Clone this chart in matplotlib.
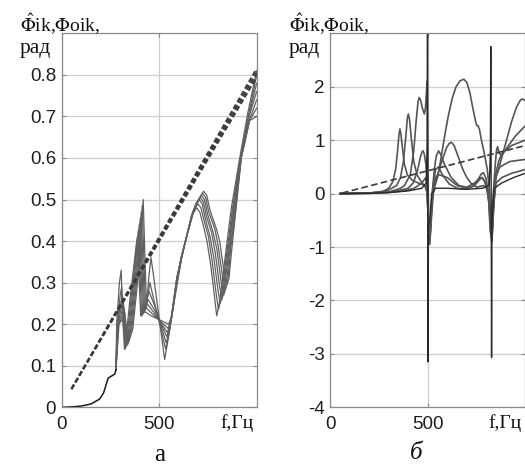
import matplotlib
matplotlib.use("Agg")
import matplotlib.pyplot as plt

plt.rcParams['mathtext.fontset'] = 'stix'
plt.rcParams['axes.unicode_minus'] = False

# ---------- panel а : phase of the transfer functions, 0..1000 Hz ----------
# common low-frequency part (all curves coincide there)
a_base = [(0, 0.0), (50, 0.001), (100, 0.003), (150, 0.008), (195, 0.02),
          (215, 0.035), (238, 0.07), (255, 0.075), (272, 0.08), (278, 0.09)]

a1 = [(278, .09), (282, .20), (296, .30), (305, .33), (312, .22), (322, .14), (335, .19),
      (350, .26), (370, .34), (382, .39), (388, .41), (395, .33), (405, .22), (427, .23),
      (460, .22), (548, .20), (565, .22), (590, .29), (615, .36), (640, .41), (665, .46),
      (692, .48), (708, .47), (725, .44), (745, .40), (765, .34), (785, .26), (795, .22),
      (808, .25), (830, .33), (870, .48), (913, .60), (955, .71), (1000, .81)]
a2 = [(278, .09), (284, .20), (300, .27), (308, .29), (315, .21), (326, .14), (340, .19),
      (355, .26), (374, .34), (387, .40), (393, .425), (400, .34), (410, .22), (432, .24),
      (465, .225), (545, .19), (562, .21), (590, .30), (615, .36), (640, .41), (668, .465),
      (698, .49), (714, .48), (730, .45), (753, .41), (772, .35), (793, .27), (804, .235),
      (816, .26), (838, .34), (876, .48), (916, .60), (957, .70), (1000, .80)]
a3 = [(278, .09), (286, .20), (303, .25), (311, .27), (318, .21), (330, .145), (345, .19),
      (360, .26), (378, .34), (392, .41), (398, .44), (405, .35), (415, .225), (437, .25),
      (470, .23), (542, .18), (560, .205), (590, .30), (615, .36), (640, .41), (672, .47),
      (704, .50), (720, .49), (736, .455), (761, .41), (780, .36), (802, .28), (813, .25),
      (825, .27), (846, .35), (881, .48), (918, .60), (959, .70), (1000, .78)]
a4 = [(278, .09), (288, .20), (306, .24), (314, .26), (321, .21), (334, .15), (350, .19),
      (365, .26), (383, .34), (397, .42), (403, .455), (410, .36), (420, .23), (442, .26),
      (475, .235), (539, .17), (557, .20), (590, .30), (615, .36), (640, .41), (676, .475),
      (710, .505), (726, .495), (742, .46), (769, .42), (788, .37), (810, .29), (822, .26),
      (834, .28), (853, .36), (884, .48), (919, .60), (961, .70), (1000, .76)]
a5 = [(278, .09), (290, .20), (309, .23), (317, .25), (324, .20), (338, .15), (355, .19),
      (370, .26), (388, .34), (402, .43), (408, .47), (415, .37), (425, .23), (447, .28),
      (480, .24), (536, .155), (555, .19), (590, .31), (615, .365), (640, .41), (680, .48),
      (716, .51), (732, .50), (748, .465), (777, .42), (796, .38), (818, .30), (831, .27),
      (843, .29), (860, .37), (886, .47), (920, .60), (962, .69), (1000, .74)]
a6 = [(278, .09), (292, .20), (312, .22), (320, .24), (327, .20), (342, .155), (360, .19),
      (375, .26), (393, .34), (407, .44), (413, .485), (420, .38), (430, .235), (452, .30),
      (533, .14), (552, .18), (590, .31), (615, .365), (640, .41), (684, .485),
      (722, .515), (738, .505), (754, .47), (785, .43), (802, .39), (826, .31), (840, .285),
      (851, .30), (866, .38), (888, .46), (921, .60), (963, .69), (1000, .72)]
a7 = [(278, .09), (294, .20), (315, .215), (323, .23), (330, .20), (346, .16), (365, .19),
      (380, .26), (398, .34), (412, .45), (418, .50), (425, .39), (435, .24), (446, .31),
      (458, .36), (470, .32), (528, .115), (548, .17), (590, .31), (615, .365), (640, .41),
      (688, .49), (728, .52), (744, .51), (760, .475), (793, .43), (810, .40), (834, .32),
      (849, .30), (858, .31), (870, .37), (890, .46), (921, .60), (964, .69), (1000, .70)]

# linear estimate (dashed): runs start together and fan out slightly towards 1000 Hz
a_lin_f = [50, 1000]
a_lin = [[0.044, 0.795], [0.044, 0.805], [0.044, 0.815]]

# ---------- panel б ----------
b1 = [(50, 0), (200, 0.005), (300, 0.02), (380, 0.05), (430, 0.1), (470, 0.2), (490, 0.3),
      (497, 0.1), (503, -0.6), (510, -0.9), (516, -0.4), (525, 0.1), (540, 0.45), (555, 0.5),
      (575, 0.35), (610, 0.18), (650, 0.1), (690, 0.08), (730, 0.13), (760, 0.28), (775, 0.37),
      (785, 0.39), (797, 0.3), (810, 0.05), (822, -0.6), (828, -0.9), (835, -0.3), (850, 0.2),
      (880, 0.3), (930, 0.38), (1000, 0.45)]
b2 = [(50, 0), (200, 0.01), (270, 0.04), (300, 0.1), (320, 0.22), (335, 0.45), (345, 0.8),
      (352, 1.1), (357, 1.21), (362, 1.12), (370, 0.85), (380, 0.55), (395, 0.35), (420, 0.25),
      (450, 0.2), (485, 0.15), (497, 0.0), (505, -0.7), (512, -0.8), (520, -0.2), (535, 0.2),
      (550, 0.35), (570, 0.58), (595, 0.85), (610, 0.94), (621, 0.96), (635, 0.9), (655, 0.7),
      (680, 0.45), (700, 0.3), (720, 0.2), (750, 0.12), (785, 0.15), (805, 0.1), (818, -0.3),
      (826, -0.8), (832, -0.2), (845, 0.5), (852, 0.8), (858, 0.88), (866, 0.75), (880, 0.72),
      (910, 0.88), (950, 1.08), (1000, 1.27)]
b3 = [(50, 0), (200, 0.01), (290, 0.05), (340, 0.15), (360, 0.3), (375, 0.6), (388, 1.1),
      (395, 1.4), (400, 1.49), (406, 1.4), (415, 1.05), (428, 0.6), (445, 0.35), (470, 0.2),
      (495, 0.1), (503, -0.5), (510, -0.95), (518, -0.5), (528, 0.0), (537, 0.15), (550, 0.3),
      (565, 0.6), (585, 1.05), (605, 1.45), (625, 1.78), (645, 2.0), (665, 2.11), (685, 2.14),
      (700, 2.08), (715, 1.9), (730, 1.62), (745, 1.35), (752, 1.27), (758, 1.27), (765, 1.2),
      (775, 1.0), (790, 0.75), (805, 0.45), (815, 0.1), (822, -0.5), (829, -0.9), (838, -0.2),
      (850, 0.3), (870, 0.55), (900, 0.95), (930, 1.35), (955, 1.62), (975, 1.75), (986, 1.77),
      (1000, 1.74)]
b4 = [(50, 0), (200, 0.01), (300, 0.03), (360, 0.1), (380, 0.15), (410, 0.35), (428, 0.8),
      (440, 1.35), (450, 1.72), (456, 1.80), (463, 1.75), (472, 1.6), (482, 1.49), (488, 1.6),
      (494, 1.95), (497, 2.1), (500, 0.5), (505, -0.6), (511, -0.85), (518, -0.3), (530, 0.2),
      (545, 0.33), (560, 0.35), (600, 0.3), (650, 0.15), (700, 0.1), (740, 0.15), (765, 0.26),
      (778, 0.3), (790, 0.24), (805, 0.08), (814, -0.2), (822, -0.7), (830, -0.8), (838, -0.1),
      (850, 0.4), (865, 0.62), (880, 0.75), (930, 0.9), (1000, 1.0)]
b5 = [(50, 0), (200, 0.005), (320, 0.03), (400, 0.1), (425, 0.2), (445, 0.4), (462, 0.68),
      (470, 0.78), (476, 0.80), (482, 0.74), (490, 0.55), (496, 0.3), (502, -0.4), (508, -0.8),
      (515, -0.6), (523, 0.0), (532, 0.4), (543, 0.7), (555, 0.8), (568, 0.72), (585, 0.55),
      (620, 0.3), (660, 0.15), (700, 0.12), (740, 0.2), (765, 0.28), (780, 0.3), (795, 0.2),
      (812, -0.1), (820, -0.7), (828, -0.85), (836, -0.4), (846, 0.3), (870, 0.5), (920, 0.6),
      (1000, 0.64)]
b6 = [(50, 0), (200, 0.005), (300, 0.02), (400, 0.05), (470, 0.1), (492, 0.2), (497, 1.0),
      (498.5, 3.05), (500, 0.0), (501.5, -3.15), (503, -0.6), (510, -0.5), (520, 0.0),
      (540, 0.1), (600, 0.1), (700, 0.08), (780, 0.1), (815, 0.15), (821, 0.8), (823, 2.75),
      (825, 0.0), (827, -3.07), (829, -0.5), (840, 0.1), (880, 0.2), (940, 0.3), (1000, 0.38)]

b_lin_f = [60, 1000]
b_lin = [0.01, 0.90]

W, H = 525, 468
fig = plt.figure(figsize=(W / 100, H / 100), dpi=100)


def px(x, y):
    return x / W, 1 - y / H


def style_axes(ax, yticks, ylim):
    ax.set_xlim(0, 1000)
    ax.set_ylim(*ylim)
    ax.set_xticks([0, 500])
    ax.set_yticks(yticks)
    ax.grid(True, color='#cfcfcf', lw=0.9)
    ax.set_axisbelow(True)
    for s in ax.spines.values():
        s.set_color('#8a8a8a')
        s.set_linewidth(0.9)
    ax.tick_params(direction='in', length=3, color='#8a8a8a', top=True, right=True,
                   labelsize=13.5, labelcolor='#1e1e1e', pad=4)
    ax.tick_params(axis='x', pad=6)
    for lab in ax.get_xticklabels() + ax.get_yticklabels():
        lab.set_fontfamily('Liberation Sans')


def draw(ax, pts, **kw):
    ax.plot([p[0] for p in pts], [p[1] for p in pts], **kw)


# panel а
ax1 = fig.add_axes([61.7 / W, 60.7 / H, 195 / W, 374 / H])
style_axes(ax1, [0, .1, .2, .3, .4, .5, .6, .7, .8], (0, 0.9))
ax1.set_yticklabels(['0', '0.1', '0.2', '0.3', '0.4', '0.5', '0.6', '0.7', '0.8'])
for c in [a1, a2, a3, a4, a5, a6, a7]:
    draw(ax1, c, color='#606060', lw=0.9)
draw(ax1, a_base, color='#1a1a1a', lw=1.1)
for v in a_lin:
    ax1.plot(a_lin_f, v, color='#3a3a3a', lw=1.5, ls=(0, (2.4, 1.3)))

# panel б
ax2 = fig.add_axes([330.3 / W, 60.7 / H, 195 / W, 374 / H])
style_axes(ax2, [-4, -3, -2, -1, 0, 1, 2], (-4, 3))
for c in [b1, b2, b3, b4, b5]:
    draw(ax2, c, color='#555555', lw=1.2)
draw(ax2, b6, color='#2a2a2a', lw=1.0)
ax2.plot(b_lin_f, b_lin, color='#3a3a3a', lw=1.2, ls=(0, (4, 2)))

# axis captions
serif = 'Liberation Serif'
for x0 in (20, 289):
    fig.text(*px(x0, 24), r'$\hat{\Phi}$ik,$\Phi$oik,', fontsize=14, family=serif,
             ha='left', va='center', color='#111111')
    fig.text(*px(x0, 49), 'рад', fontsize=15.5, family=serif, ha='left', va='center',
             color='#111111')
for xc in (237, 505):
    fig.text(*px(xc, 423), 'f,Гц', fontsize=14, family=serif, ha='center', va='center',
             color='#111111')
fig.text(*px(160, 455), 'а', fontsize=18, family=serif, ha='center', va='center',
         color='#111111')
fig.text(*px(416, 453), 'б', fontsize=18, family=serif, style='italic', ha='center',
         va='center', color='#111111')

fig.savefig('out.png', dpi=100)
